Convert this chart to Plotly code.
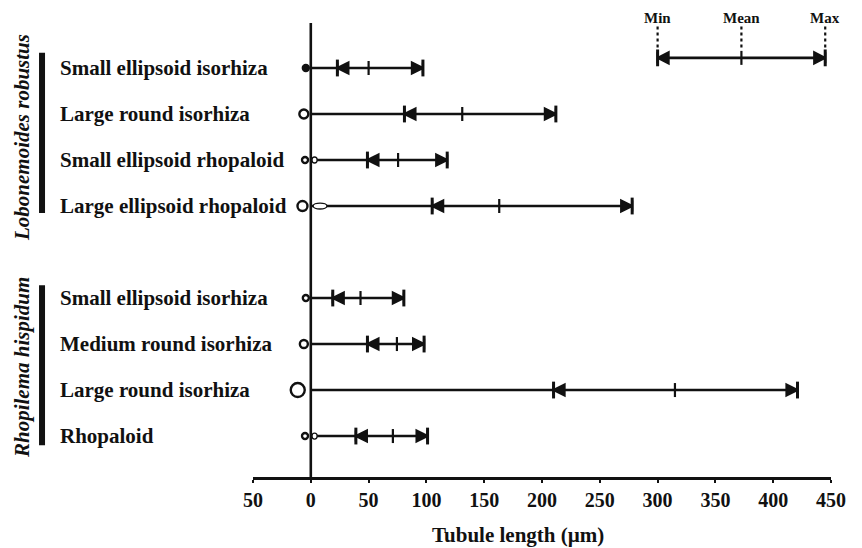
import plotly.graph_objects as go

# ---------------- data ----------------
species = ["Lobonemoides robustus", "Rhopilema hispidum"]
lr_types = ["Small ellipsoid isorhiza", "Large round isorhiza",
            "Small ellipsoid rhopaloid", "Large ellipsoid rhopaloid"]
rh_types = ["Small ellipsoid isorhiza", "Medium round isorhiza",
            "Large round isorhiza", "Rhopaloid"]
lr_min = [23, 81, 49, 105]
lr_mean = [50, 131, 75.5, 163]
lr_max = [97, 212, 118, 278]
rh_min = [19, 49, 210, 39]
rh_mean = [43, 74.5, 315, 71]
rh_max = [80.5, 98, 421, 101]
legend_labels = ["Min", "Mean", "Max"]
legend_vals = [300, 372.5, 445]
tick_vals = [-50, 0, 50, 100, 150, 200, 250, 300, 350, 400, 450]
tick_text = ["50", "0", "50", "100", "150", "200", "250", "300", "350", "400", "450"]

# ---------------- layout helpers (styles / positions) ----------------
labels = lr_types + rh_types
mins = lr_min + rh_min
means = lr_mean + rh_mean
maxs = lr_max + rh_max
rows = [0, 1, 2, 3, 5, 6, 7, 8]

# capsule pictograms near zero: (x centre, size, filled?)
caps_x = [-4.3, -6, -5, -7.2, -4.3, -6, -11.3, -5]
caps_size = [6, 9, 6, 10, 6, 8, 14, 6]
caps_fill = [True, False, False, False, False, False, False, False]
# shaft (rhopaloid) extents (x0, x1) or None
shafts = [None, None, (1, 5.5), (2, 14), None, None, None, (1, 5.5)]

FONT = "Liberation Serif"
BLACK = "#111111"
MARK = 11
BAR_SIZE = 12
MEAN_SIZE = 10

fig = go.Figure()

# horizontal lines
for r, mx in zip(rows, maxs):
    fig.add_trace(go.Scatter(x=[0, mx], y=[r, r], mode="lines",
                             line=dict(color=BLACK, width=2.6),
                             hoverinfo="skip", showlegend=False))

# legend line
leg_y = -0.22
fig.add_trace(go.Scatter(x=[legend_vals[0], legend_vals[2]], y=[leg_y, leg_y], mode="lines",
                         line=dict(color=BLACK, width=2.6), hoverinfo="skip", showlegend=False))

all_min = mins + [legend_vals[0]]
all_mean = means + [legend_vals[1]]
all_max = maxs + [legend_vals[2]]
all_y = rows + [leg_y]

fig.add_trace(go.Scatter(x=all_min, y=all_y, mode="markers",
                         marker=dict(symbol="arrow-bar-left", size=MARK, color=BLACK, opacity=1,
                                     line=dict(color=BLACK, width=2.2)),
                         showlegend=False, cliponaxis=False))
fig.add_trace(go.Scatter(x=all_max, y=all_y, mode="markers",
                         marker=dict(symbol="arrow-bar-right", size=MARK, color=BLACK, opacity=1,
                                     line=dict(color=BLACK, width=2.2)),
                         showlegend=False, cliponaxis=False))
# taller end bars
fig.add_trace(go.Scatter(x=all_min + all_max, y=all_y + all_y, mode="markers",
                         marker=dict(symbol="line-ns", size=BAR_SIZE, color=BLACK, opacity=1,
                                     line=dict(color=BLACK, width=3)),
                         showlegend=False, cliponaxis=False, hoverinfo="skip"))
fig.add_trace(go.Scatter(x=all_mean, y=all_y, mode="markers",
                         marker=dict(symbol="line-ns", size=MEAN_SIZE, color=BLACK, opacity=1,
                                     line=dict(color=BLACK, width=2.2)),
                         showlegend=False, cliponaxis=False))

# capsule pictograms
fig.add_trace(go.Scatter(
    x=caps_x, y=rows, mode="markers",
    marker=dict(symbol=["circle" if f else "circle-open" for f in caps_fill],
                size=caps_size, color=BLACK, opacity=1, line=dict(color=BLACK, width=2.4)),
    showlegend=False, cliponaxis=False, hoverinfo="skip"))

shapes = []
for r, s in zip(rows, shafts):
    if s is None:
        continue
    shapes.append(dict(type="circle", xref="x", yref="y", x0=s[0], x1=s[1],
                       y0=r - 0.065, y1=r + 0.065, line=dict(color=BLACK, width=1.3),
                       fillcolor="white", layer="above"))

# vertical zero line
shapes.append(dict(type="line", xref="x", yref="paper", x0=0, x1=0, y0=0, y1=1,
                   line=dict(color=BLACK, width=2.6), layer="above"))

# species bars
shapes.append(dict(type="line", xref="paper", yref="y", x0=-0.365, x1=-0.365,
                   y0=-0.33, y1=3.15, line=dict(color=BLACK, width=6)))
shapes.append(dict(type="line", xref="paper", yref="y", x0=-0.365, x1=-0.365,
                   y0=4.72, y1=8.2, line=dict(color=BLACK, width=6)))

# legend dotted lines
for v in legend_vals:
    shapes.append(dict(type="line", xref="x", yref="y", x0=v, x1=v, y0=-0.9, y1=-0.42,
                       line=dict(color=BLACK, width=2.2, dash="dot")))

annotations = []
for r, lab in zip(rows, labels):
    annotations.append(dict(text=lab, x=-0.3374, xref="paper", y=r, yref="y",
                            xanchor="left", yanchor="middle", showarrow=False,
                            font=dict(family=FONT, size=21, color=BLACK, weight="bold")))
for sp, yc in zip(species, [1.5, 6.5]):
    annotations.append(dict(text=sp, x=-0.3997, xref="paper", y=yc, yref="y",
                            xanchor="center", yanchor="middle", textangle=-90, showarrow=False,
                            font=dict(family=FONT, size=21, color=BLACK, weight="bold",
                                      style="italic")))
for lab, v in zip(legend_labels, legend_vals):
    annotations.append(dict(text=lab, x=v, xref="x", y=1.012, yref="paper",
                            xanchor="center", yanchor="middle", showarrow=False,
                            font=dict(family=FONT, size=15, color=BLACK, weight="bold")))
annotations.append(dict(text="Tubule length (µm)", x=179, xref="x", y=-0.128, yref="paper",
                        xanchor="center", yanchor="middle", showarrow=False,
                        font=dict(family=FONT, size=21, color=BLACK, weight="bold")))

fig.update_layout(
    width=862, height=548,
    margin=dict(l=253, r=31, t=23, b=71),
    plot_bgcolor="white", paper_bgcolor="white",
    shapes=shapes, annotations=annotations,
    xaxis=dict(range=[-50, 450], tickvals=tick_vals, ticktext=tick_text,
               showgrid=False, zeroline=False, showline=True, linecolor=BLACK, linewidth=2.6,
               ticks="outside", ticklen=3, tickwidth=2, tickcolor=BLACK,
               tickfont=dict(family=FONT, size=20, color=BLACK, weight="bold")),
    yaxis=dict(range=[8.89, -0.978], visible=False, showgrid=False, zeroline=False),
)

fig.write_html("out.html", config={"displayModeBar": False},
               post_script="document.body.style.margin='0';document.body.style.padding='0';")
